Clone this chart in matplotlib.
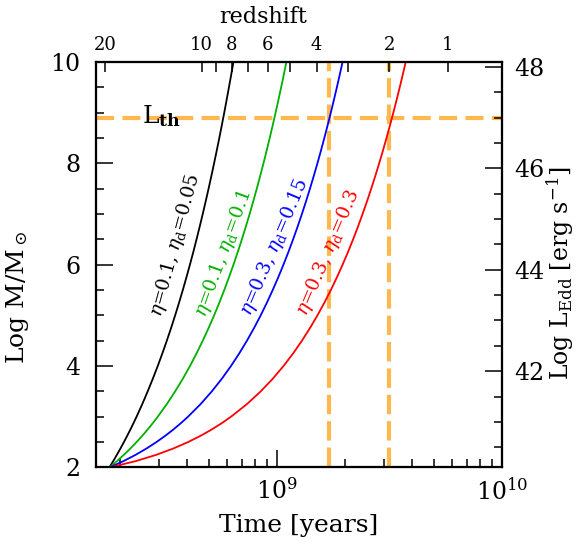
import numpy as np
import matplotlib.pyplot as plt
from matplotlib.ticker import MultipleLocator, FixedLocator, NullLocator

plt.rcParams['font.family'] = 'DejaVu Serif'
plt.rcParams['mathtext.fontset'] = 'dejavuserif'
plt.rcParams['lines.scale_dashes'] = False

log_m = [2.0, 2.125, 2.25, 2.375, 2.5, 2.625, 2.75, 2.875, 3.0, 3.25, 3.5, 3.75,
         4.0, 4.25, 4.5, 4.75, 5.0, 5.25, 5.5, 5.75, 6.0, 6.25, 6.5, 6.75,
         7.0, 7.25, 7.5, 7.75, 8.0, 8.25, 8.5, 8.75, 9.0, 9.25, 9.5, 9.75, 10.0]

# cosmic time (Myr) at which each track reaches those masses
t_black = [180.0, 187.2, 194.4, 201.6, 208.8, 216.0, 223.2, 230.4, 237.6, 252.0,
           266.3, 280.7, 295.1, 309.5, 323.9, 338.3, 352.7, 367.1, 381.5, 395.9,
           410.3, 424.7, 439.0, 453.4, 467.8, 482.2, 496.6, 511.0, 525.4, 539.8,
           554.2, 568.6, 583.0, 597.3, 611.7, 626.1, 640.5]
t_green = [180.0, 194.4, 208.8, 223.2, 237.6, 252.0, 266.3, 280.7, 295.1, 323.9,
           352.7, 381.5, 410.3, 439.0, 467.8, 496.6, 525.4, 554.2, 583.0, 611.7,
           640.5, 669.3, 698.1, 726.9, 755.7, 784.4, 813.2, 842.0, 870.8, 899.6,
           928.3, 957.1, 985.9, 1014.7, 1043.5, 1072.3, 1101.0]
t_blue = [180.0, 207.8, 235.5, 263.3, 291.0, 318.8, 346.5, 374.3, 402.0, 457.6,
          513.1, 568.6, 624.1, 679.6, 735.1, 790.6, 846.1, 901.6, 957.1, 1012.7,
          1068.2, 1123.7, 1179.2, 1234.7, 1290.2, 1345.7, 1401.2, 1456.7, 1512.2,
          1567.8, 1623.3, 1678.8, 1734.3, 1789.8, 1845.3, 1900.8, 1956.3]
t_red = [180.0, 235.5, 291.0, 346.5, 402.0, 457.6, 513.1, 568.6, 624.1, 735.1,
         846.1, 957.2, 1068.2, 1179.2, 1290.2, 1401.2, 1512.3, 1623.3, 1734.3,
         1845.3, 1956.4, 2067.4, 2178.4, 2289.4, 2400.5, 2511.5, 2622.5, 2733.5,
         2844.5, 2955.6, 3066.6, 3177.6, 3288.6, 3399.7, 3510.7, 3621.7, 3732.7]

tracks = [t_black, t_green, t_blue, t_red]
colors = ['black', '#00B000', '#0000FF', '#FF0000']
labels = [r'$\eta$=0.1, $\eta_{\rm d}$=0.05',
          r'$\eta$=0.1, $\eta_{\rm d}$=0.1',
          r'$\eta$=0.3, $\eta_{\rm d}$=0.15',
          r'$\eta$=0.3, $\eta_{\rm d}$=0.3']
label_t = [3.55e8, 5.80e8, 9.8e8, 1.69e9]
label_m = [6.39, 6.23, 6.35, 6.23]
label_rot = [75, 70, 67, 67]

# threshold luminosity (in log M units) and the times the tracks cross it
l_th = 8.9
t_cross = [1.70e9, 3.15e9]

# redshift axis
z_vals = [20, 10, 9, 8, 7, 6, 5, 4, 3, 2, 1]
z_times = [1.72e8, 4.63e8, 5.34e8, 6.29e8, 7.45e8, 9.09e8, 1.142e9,
           1.501e9, 2.074e9, 3.156e9, 5.74e9]
z_text = ['20', '10', '', '8', '', '6', '', '4', '', '2', '1']

ledd_offset = 38.1  # log L_Edd = log M + 38.1
orange = '#FFB84D'

fig = plt.figure(figsize=(5.77, 5.46), dpi=100)
ax = fig.add_axes([0.1664, 0.1438, 0.7037, 0.7427])

ax.axhline(l_th, color=orange, lw=3, dashes=(13, 6), zorder=1)
for tc in t_cross:
    ax.axvline(tc, color=orange, lw=3, dashes=(14, 5), zorder=1)

for t, c in zip(tracks, colors):
    ax.plot(np.array(t) * 1e6, log_m, color=c, lw=1.3, zorder=3)

for s, x, y, r, c in zip(labels, label_t, label_m, label_rot, colors):
    ax.text(x, y, s, color=c, rotation=r, rotation_mode='anchor',
            ha='center', va='center', fontsize=13.5)

ax.text(2.51e8, 8.80, r'L$_{\bf th}$', fontsize=18, va='baseline')

ax.set_xscale('log')
ax.set_xlim(1.57e8, 1e10)
ax.set_ylim(2, 10)
ax.yaxis.set_major_locator(MultipleLocator(2))
ax.yaxis.set_minor_locator(MultipleLocator(0.5))
ax.tick_params(which='both', direction='in', width=1.1, labelsize=17)
ax.tick_params(which='major', length=12)
ax.tick_params(which='minor', length=6)
ax.tick_params(axis='x', which='major', pad=8)
ax.tick_params(axis='y', which='major', pad=11)
ax.set_xlabel('Time [years]', fontsize=18)
ax.set_ylabel(r'Log M/M$_\odot$', fontsize=18)
ax.xaxis.set_label_coords(0.5, -0.115)
ax.yaxis.set_label_coords(-0.16, 0.42)

axr = ax.twinx()
axr.set_ylim(2 + ledd_offset, 10 + ledd_offset)
axr.yaxis.set_major_locator(MultipleLocator(2))
axr.yaxis.set_minor_locator(MultipleLocator(0.5))
axr.tick_params(which='both', direction='in', width=1.1, labelsize=17)
axr.tick_params(which='major', length=12, pad=9)
axr.tick_params(which='minor', length=6)
axr.set_ylabel(r'Log L$_{\rm Edd}$ [erg s$^{-1}$]', fontsize=17)
axr.yaxis.set_label_coords(1.105, 0.48)

axt = ax.twiny()
axt.set_xscale('log')
axt.set_xlim(ax.get_xlim())
axt.xaxis.set_major_locator(FixedLocator(z_times))
axt.xaxis.set_minor_locator(NullLocator())
axt.set_xticklabels(z_text)
axt.tick_params(direction='in', length=7, width=1.1, labelsize=13, pad=6)
axt.set_xlabel('redshift', fontsize=16)
axt.xaxis.set_label_coords(0.411, 1.096)

for a in (ax, axr, axt):
    for sp in a.spines.values():
        sp.set_linewidth(1.5)

fig.savefig('out.png', dpi=100)
